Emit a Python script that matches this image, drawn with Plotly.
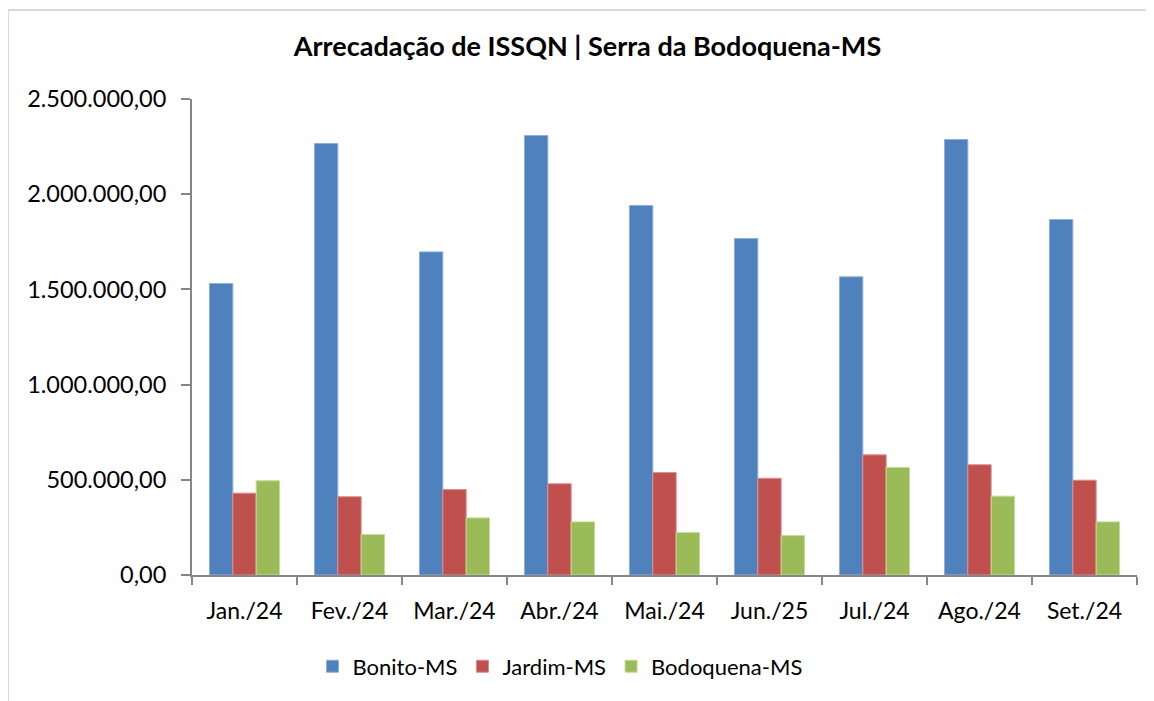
import plotly.graph_objects as go

categories = ["Jan./24", "Fev./24", "Mar./24", "Abr./24", "Mai./24", "Jun./25", "Jul./24", "Ago./24", "Set./24"]
bonito = [1531000, 2266000, 1697000, 2308000, 1941000, 1767000, 1566000, 2287000, 1867000]
jardim = [430000, 411000, 449000, 479000, 538000, 508000, 631000, 579000, 498000]
bodoquena = [495000, 213000, 300000, 279000, 223000, 207000, 565000, 414000, 279000]
series_names = ["Bonito-MS", "Jardim-MS", "Bodoquena-MS"]
colors = ["#4F81BD", "#C0504D", "#9BBB59"]
edge_colors = ["#8DAFDC", "#DA8E8C", "#C5DB98"]
y_ticks = [0, 500000, 1000000, 1500000, 2000000, 2500000]

PAGE_W, PAGE_H = 1154, 701
OFF = 8  # browser body margin
W, H = PAGE_W - OFF, PAGE_H - OFF
L, R, T, B = 192, 1137, 99, 575.5  # plot area in page pixels

def px(x):
    return (x - L) / (R - L)

def py(y):
    return (B - y) / (B - T)

FONT = "Lato"

fig = go.Figure()
for name, vals, c, ec in zip(series_names, [bonito, jardim, bodoquena], colors, edge_colors):
    fig.add_trace(go.Bar(x=categories, y=vals, name=name,
                         marker=dict(color=c, line=dict(color=ec, width=1))))

fig.update_layout(
    width=W, height=H,
    margin=dict(l=L - OFF, r=PAGE_W - R, t=T - OFF, b=PAGE_H - B, autoexpand=False),
    paper_bgcolor="white", plot_bgcolor="white",
    separators=",.",
    barmode="group", bargap=0.333, bargroupgap=0,
    font=dict(family=FONT, size=22, color="black"),
    title=dict(text="<b>Arrecadação de ISSQN | Serra da Bodoquena-MS</b>",
               x=(587.5 - OFF) / W, xanchor="center", y=1 - (47 - OFF) / H, yanchor="middle",
               xref="container", yref="container",
               font=dict(family=FONT, size=27, color="black")),
    legend=dict(orientation="h", x=px(560), xanchor="center", y=py(667), yanchor="middle",
                font=dict(family=FONT, size=22, color="black"), traceorder="normal",
                itemwidth=30),
    showlegend=True,
)
fig.update_xaxes(type="category", tickson="boundaries", ticks="outside", ticklen=8,
                 tickcolor="#868686", tickwidth=2, showline=True, linecolor="#868686",
                 linewidth=2, showgrid=False, ticklabelstandoff=14,
                 tickfont=dict(family=FONT, size=23, color="black"))
fig.update_yaxes(range=[0, 2500000], tickvals=y_ticks, tickformat=",.2f", ticks="outside",
                 ticklen=9, tickcolor="#868686", tickwidth=2, showline=True, linecolor="#868686",
                 linewidth=2, showgrid=False, zeroline=False, ticklabelstandoff=10,
                 tickfont=dict(family=FONT, size=23.5, color="black"))

fig.add_shape(type="rect", xref="paper", yref="paper",
              x0=px(8), x1=px(1170), y0=py(720), y1=py(10),
              line=dict(color="#D9D9D9", width=2), fillcolor="rgba(0,0,0,0)", layer="below")

fig.write_html("out.html")
